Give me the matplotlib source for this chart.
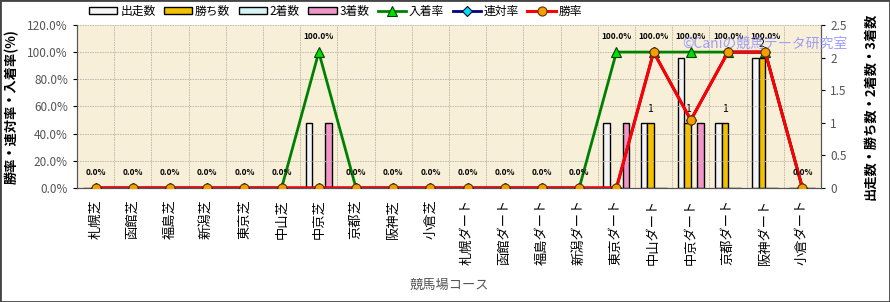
import matplotlib
matplotlib.use("Agg")
import matplotlib.pyplot as plt
from matplotlib.patches import Rectangle
import numpy as np

plt.rcParams['font.family'] = ['Noto Sans CJK JP', 'DejaVu Sans']

courses = ['札幌芝', '函館芝', '福島芝', '新潟芝', '東京芝', '中山芝', '中京芝', '京都芝', '阪神芝', '小倉芝',
           '札幌ダート', '函館ダート', '福島ダート', '新潟ダート', '東京ダート', '中山ダート', '中京ダート',
           '京都ダート', '阪神ダート', '小倉ダート']
starts = [0, 0, 0, 0, 0, 0, 1, 0, 0, 0, 0, 0, 0, 0, 1, 1, 2, 1, 2, 0]
wins = [0, 0, 0, 0, 0, 0, 0, 0, 0, 0, 0, 0, 0, 0, 0, 1, 1, 1, 2, 0]
seconds = [0] * 20
thirds = [0, 0, 0, 0, 0, 0, 1, 0, 0, 0, 0, 0, 0, 0, 1, 0, 1, 0, 0, 0]
place_rate = [0, 0, 0, 0, 0, 0, 100, 0, 0, 0, 0, 0, 0, 0, 100, 100, 100, 100, 100, 0]
quinella_rate = [0, 0, 0, 0, 0, 0, 0, 0, 0, 0, 0, 0, 0, 0, 0, 100, 50, 100, 100, 0]
win_rate = [0, 0, 0, 0, 0, 0, 0, 0, 0, 0, 0, 0, 0, 0, 0, 100, 50, 100, 100, 0]

fig = plt.figure(figsize=(8.9, 3.02), dpi=100)
ax2 = fig.add_axes([0.0865, 0.3775, 0.836, 0.54])
ax = ax2.twinx()
# lines axis on top, bars axis carries the background
ax.set_zorder(ax2.get_zorder() + 1)
ax.patch.set_visible(False)
ax2.set_facecolor('#F8EFD9')

x = np.arange(len(courses))
w = 0.175
bar_specs = [(starts, '#F4F4F4', '出走数'), (wins, '#F2C200', '勝ち数'),
             (seconds, '#D6F4F4', '2着数'), (thirds, '#F095C8', '3着数')]
handles = []
for i, (vals, col, lab) in enumerate(bar_specs):
    b = ax2.bar(x + (i - 1.5) * w, vals, w, color=col, edgecolor='black', linewidth=1, label=lab)
    handles.append(b)
for xi, v in zip(x, wins):
    if v > 0:
        ax2.annotate(str(v), (xi - 0.5 * w, v), xytext=(0, 9), textcoords='offset pixels',
                     ha='center', va='bottom', fontsize=7.5)

# rate axis on the left, count axis on the right
ax.yaxis.tick_left()
ax.yaxis.set_label_position('left')
ax2.yaxis.tick_right()
ax2.yaxis.set_label_position('right')

l1, = ax.plot(x, place_rate, color='#008000', lw=2, marker='^', ms=7,
              mfc='#00E000', mec='#004000', mew=0.8, label='入着率', zorder=3)
l2, = ax.plot(x, quinella_rate, color='#000080', lw=2, marker='D', ms=5,
              mfc='#00E0F0', mec='#000040', mew=0.8, label='連対率', zorder=4)
l3, = ax.plot(x, win_rate, color='#FF0000', lw=2.2, marker='o', ms=6.5,
              mfc='#F0A000', mec='#603000', mew=0.8, label='勝率', zorder=5)
for xi, v in zip(x, place_rate):
    ax.annotate(f'{v:.1f}%', (xi, v), xytext=(0, 11), textcoords='offset pixels',
                ha='center', va='bottom', fontsize=6, fontweight='bold', zorder=6)

ax.set_xlim(-0.5, len(courses) - 0.5)
ax.set_ylim(0, 120)
ax.set_yticks(np.arange(0, 121, 20))
ax.set_yticklabels([f'{v:.1f}%' for v in np.arange(0, 121, 20)])
ax2.set_ylim(0, 2.5)
ax2.set_yticks([0, 0.5, 1, 1.5, 2, 2.5])
ax2.set_yticklabels(['0', '0.5', '1', '1.5', '2', '2.5'])
ax2.set_xticks(x)
ax2.set_xticklabels(courses, rotation=90, fontsize=9.5)
ax2.set_xticks(np.arange(-0.5, len(courses), 1), minor=True)
ax2.tick_params(axis='x', which='major', length=0, pad=8)
ax2.tick_params(axis='x', which='minor', length=0)
ax.tick_params(axis='y', labelsize=8.5, labelcolor='#555555', length=3)
ax2.tick_params(axis='y', labelsize=8.5, labelcolor='#555555', length=3)

ax2.grid(True, which='minor', axis='x', color='#BDB6A8', linestyle=(0, (2, 1)), linewidth=0.6)
ax.grid(True, axis='y', color='#BDB6A8', linestyle=(0, (2, 1)), linewidth=0.6)

ax.spines['top'].set_visible(False)
ax2.spines['top'].set_visible(False)
for a in (ax, ax2):
    for sp in a.spines.values():
        sp.set_color('#555555')

ax.set_ylabel('勝率・連対率・入着率(%)', fontsize=9.5, fontweight='bold', labelpad=6)
ax2.set_ylabel('出走数・勝ち数・2着数・3着数', fontsize=9.5, fontweight='bold', labelpad=12)
ax2.set_xlabel('競馬場コース', fontsize=9.5, color='#555555', labelpad=10)

fig.text(0.767, 0.84, '©Caniの競馬データ研究室', color='#8888FF', alpha=0.8, fontsize=10)

fig.legend(handles + [l1, l2, l3], [h.get_label() for h in handles] + ['入着率', '連対率', '勝率'],
           loc='upper left', bbox_to_anchor=(0.088, 1.02), ncol=7, frameon=False,
           fontsize=8.5, handlelength=2.4, handleheight=0.45, columnspacing=0.7, handletextpad=0.25)

fig.patches.append(Rectangle((0, 0), 1, 1, transform=fig.transFigure, fill=False,
                             edgecolor='#444444', linewidth=2))

plt.savefig('out.png', dpi=100)
